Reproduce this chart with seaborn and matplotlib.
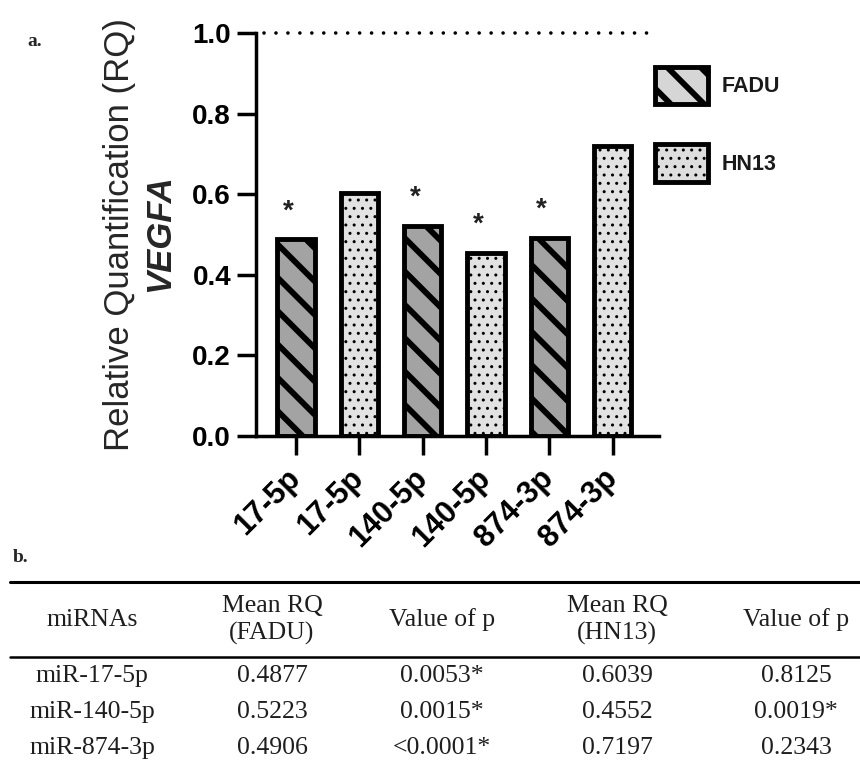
import matplotlib
matplotlib.use("Agg")
import matplotlib.pyplot as plt
import matplotlib.patches as mpatches
from matplotlib.lines import Line2D
import seaborn as sns
import pandas as pd

# ---------------- data ----------------
mirnas = ["17-5p", "140-5p", "874-3p"]
cell_lines = ["FADU", "HN13"]
fadu_rq = [0.4877, 0.5223, 0.4906]
hn13_rq = [0.6039, 0.4552, 0.7197]
fadu_p = ["0.0053*", "0.0015*", "<0.0001*"]
hn13_p = ["0.8125", "0.0019*", "0.2343"]
y_ticks = [0.0, 0.2, 0.4, 0.6, 0.8, 1.0]
table_headers = ["miRNAs", "Mean RQ\n(FADU)", "Value of p", "Mean RQ\n(HN13)", "Value of p"]

rows = []
for i, m in enumerate(mirnas):
    rows.append({"bar": f"{m} FADU", "label": m, "cell": "FADU", "rq": fadu_rq[i], "p": fadu_p[i]})
    rows.append({"bar": f"{m} HN13", "label": m, "cell": "HN13", "rq": hn13_rq[i], "p": hn13_p[i]})
df = pd.DataFrame(rows)
order = list(df["bar"])

# ---------------- style ----------------
sns.set_theme(style="ticks")
plt.rcParams["font.family"] = ["Liberation Sans", "DejaVu Sans"]
plt.rcParams["hatch.linewidth"] = 1.0

fig = plt.figure(figsize=(8.6, 7.65), dpi=100)
W, H = 860, 765
ax = fig.add_axes([256 / W, 1 - 436 / H, (659 - 256) / W, (436 - 33) / H])

face = {"FADU": "#a3a3a3", "HN13": "#e2e2e2"}
hatches = {"FADU": "\\", "HN13": ".."}
hatch_lw = {"FADU": 4.2, "HN13": 1.0}

for cell in cell_lines:
    sub = df[df["cell"] == cell]
    with plt.rc_context({"hatch.linewidth": hatch_lw[cell]}):
        sns.barplot(data=sub, x="bar", y="rq", order=order, color=face[cell],
                    edgecolor="black", linewidth=3.5, width=0.59, ax=ax,
                    saturation=1, errorbar=None)
    for p in ax.containers[-1]:
        p.set_hatch(hatches[cell])
        p.set_facecolor(face[cell])
        if hasattr(p, "set_hatch_linewidth"):
            p.set_hatch_linewidth(hatch_lw[cell])

# asterisks
for i, r in df.iterrows():
    if "*" in r["p"]:
        ax.text(order.index(r["bar"]) - 0.12, r["rq"] + 0.07, "*", ha="center", va="center",
                fontsize=20, fontweight="bold", color="#222222")

# dotted reference line
ax.axhline(1.0, xmin=0.02, xmax=0.99, color="black", lw=2.6,
           linestyle=(0, (0.01, 3.3)), dash_capstyle="round", clip_on=False)

ax.set_xlim(-0.63, 5.73)
ax.set_ylim(0, 1.0)
ax.set_yticks(y_ticks)
ax.set_yticklabels([f"{t:.1f}" for t in y_ticks], fontsize=20, fontweight="bold")
ax.set_xticks(range(len(order)))
ax.set_xticklabels(df["label"], fontsize=22, fontweight="bold", rotation=45,
                   ha="right", va="center", rotation_mode="anchor")
ax.tick_params(axis="both", length=14, width=2.5, color="black", labelcolor="black")
ax.tick_params(axis="y", pad=4)
ax.tick_params(axis="x", pad=13)
ax.set_xlabel("")
ax.set_ylabel("")
sns.despine(ax=ax)
for s in ["left", "bottom"]:
    ax.spines[s].set_linewidth(2.5)
    ax.spines[s].set_color("black")

# y label (two lines)
fig.text(120 / W, 1 - 235 / H, "Relative Quantification (RQ)", rotation=90,
         ha="center", va="center", fontsize=25)
fig.text(160 / W, 1 - 233 / H, "VEGFA", rotation=90, ha="center", va="center",
         fontsize=25, fontweight="bold", fontstyle="italic")

# legend
handles = []
leg_face = {"FADU": "#d6d6d6", "HN13": "#dedede"}
for cell in cell_lines:
    h = mpatches.Patch(facecolor=leg_face[cell], edgecolor="black", linewidth=3.5,
                       hatch=hatches[cell], label=cell)
    handles.append(h)
leg = fig.legend(handles=handles, loc="upper left", bbox_to_anchor=(655 / W, 1 - 67 / H),
                 frameon=False, borderpad=0, borderaxespad=0, handlelength=2.45,
                 handleheight=2.3, labelspacing=1.85, handletextpad=0.65,
                 prop={"family": "Liberation Sans", "weight": "bold", "size": 15.5})
for patch, cell in zip(leg.get_patches(), cell_lines):
    if hasattr(patch, "set_hatch_linewidth"):
        patch.set_hatch_linewidth(hatch_lw[cell])
for t in leg.get_texts():
    t.set_color("#1a1a1a")

# panel labels
fig.text(27 / W, 1 - 42 / H, "a.", fontsize=14, fontweight="bold", family="Liberation Serif",
         ha="left", va="center")
fig.text(13 / W, 1 - 557 / H, "b.", fontsize=14, fontweight="bold", family="Liberation Serif",
         ha="left", va="center")

# ---------------- table ----------------
tax = fig.add_axes([0, 0, 1, 1], facecolor="none")
tax.set_xlim(0, W)
tax.set_ylim(H, 0)
tax.axis("off")
col_x = [92, 272, 442, 617, 796]
tfont = dict(family="Liberation Serif", fontsize=18.5, color="#1e1e1e", ha="center", va="center")
tax.add_line(Line2D([10, W], [582, 582], color="black", lw=2.2))
tax.add_line(Line2D([10, W], [657, 657], color="black", lw=1.8))
for x, h in zip(col_x, table_headers):
    tax.text(x, 620, h, linespacing=1.3, **tfont)
row_y = [676, 712, 748]
for i, m in enumerate(mirnas):
    vals = [f"miR-{m}", f"{fadu_rq[i]:.4f}", fadu_p[i], f"{hn13_rq[i]:.4f}", hn13_p[i]]
    for x, v in zip(col_x, vals):
        tax.text(x, row_y[i], v, **tfont)

fig.savefig("out.png", dpi=100)
